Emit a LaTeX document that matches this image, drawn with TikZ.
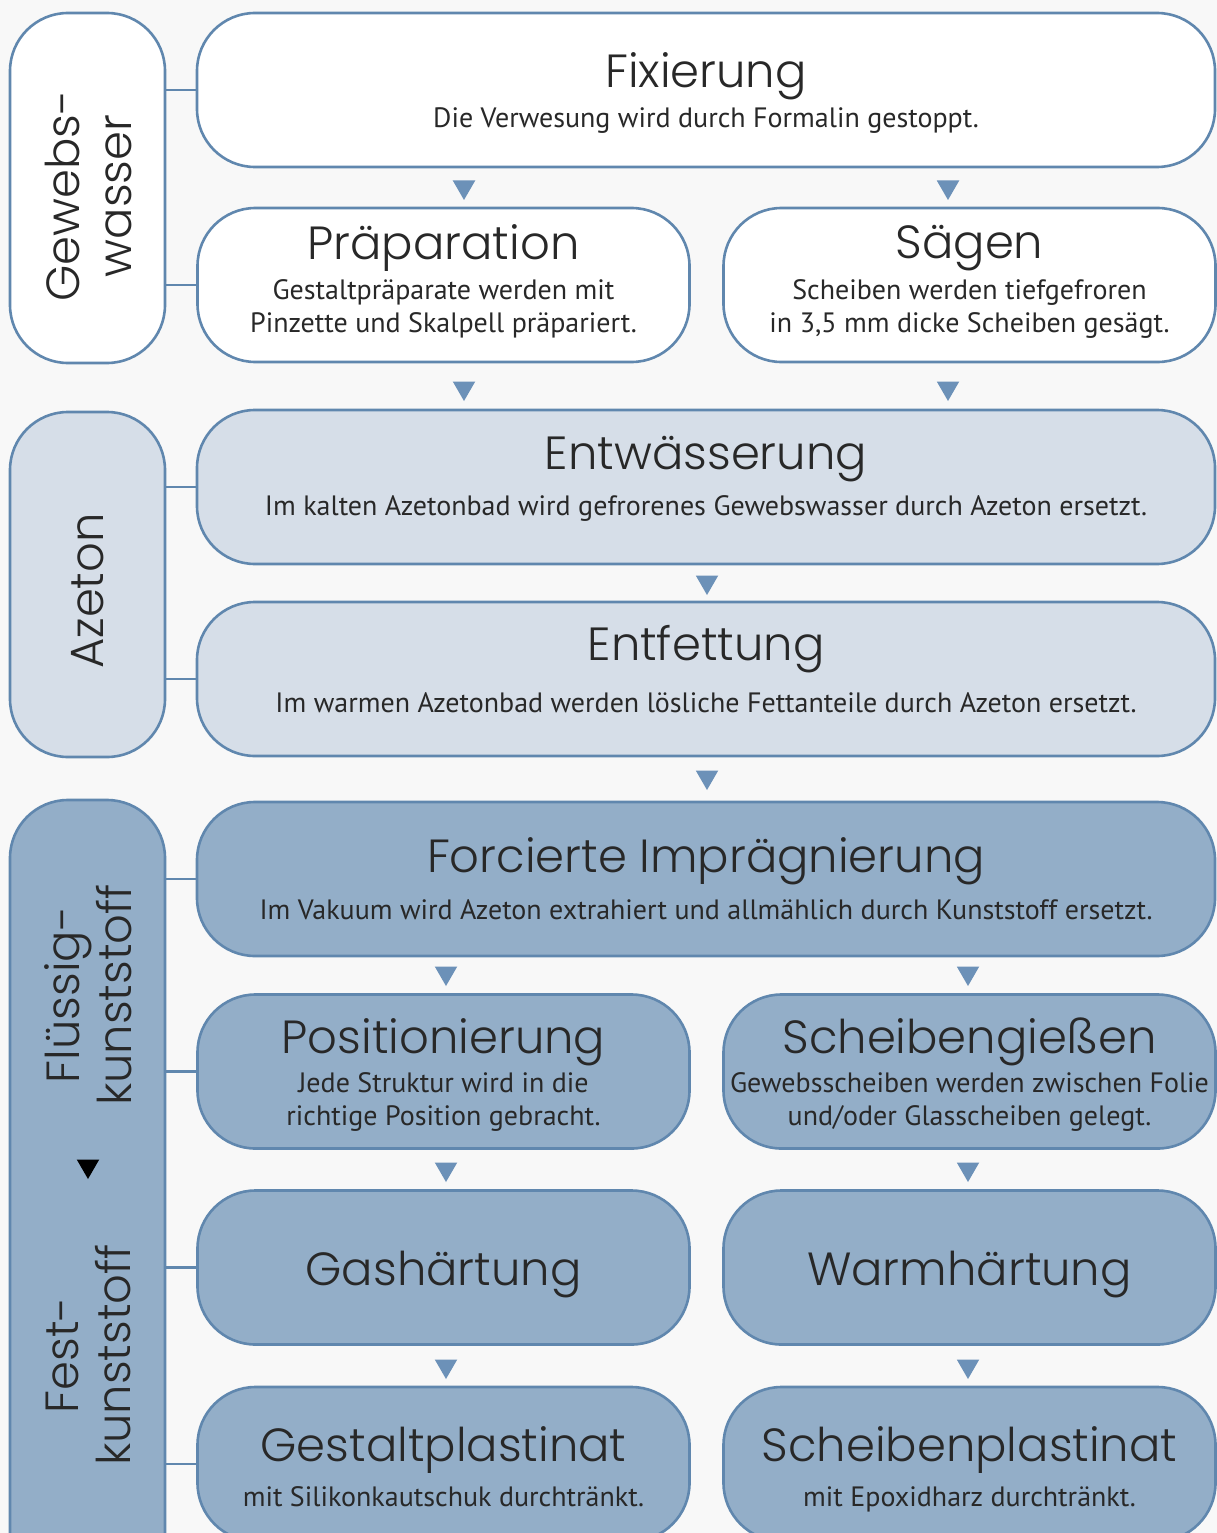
\documentclass[tikz,border=0pt]{standalone}
\usepackage{fontspec}
\setmainfont{PT Sans}
\newfontfamily\titlefont{Poppins}[UprightFont={* Light}]
\usetikzlibrary{shapes.geometric}

\definecolor{bgcol}{RGB}{248,248,248}
\definecolor{linecol}{RGB}{96,135,174}
\definecolor{lightcol}{RGB}{214,222,232}
\definecolor{darkcol}{RGB}{147,174,200}
\definecolor{tricol}{RGB}{108,145,184}
\definecolor{textcol}{RGB}{40,40,40}

\newcommand{\descsize}{\fontsize{28}{32.5}\selectfont}
\newcommand{\titlesize}{\titlefont\fontsize{46.5}{52}\selectfont}

\tikzset{
  stage/.style={draw=linecol, line width=2.6pt, rounded corners=58pt,
    minimum height=154pt, inner sep=0pt},
  wide/.style={stage, minimum width=1018pt},
  half/.style={stage, minimum width=492pt},
  phase/.style={draw=linecol, line width=2.6pt, rounded corners=58pt, minimum width=155pt},
  phaselabel/.style={rotate=90, align=center, text=textcol, font=\titlesize},
  heading/.style={anchor=base, inner sep=0pt, text=textcol, font=\titlesize},
  note/.style={anchor=base, inner sep=0pt, align=center, text=textcol, font=\descsize},
  pale/.style={fill=white},
  mid/.style={fill=lightcol},
  deep/.style={fill=darkcol},
  tri/.style={regular polygon, regular polygon sides=3, shape border rotate=180,
    fill=tricol, minimum size=26pt, inner sep=0pt},
  link/.style={draw=linecol, line width=2.6pt},
}

\begin{document}
\begin{tikzpicture}[x=1pt, y=-1pt]
    % Background
    \fill[bgcol] (0,0) rectangle (1217,1533);
    \clip (0,0) rectangle (1217,1533);

    % Phases on the left
    \node[phase, pale, minimum height=350pt] (gew) at (87.5,188) {};
    \node[phase, mid, minimum height=345pt] (aze) at (87.5,584.5) {};
    \node[phase, deep, minimum height=800pt] (kunst) at (87.5,1200) {};

    \node[phaselabel] (gewlab) at (88,196) {Gewebs-\\wasser};
    \node[phaselabel] (azelab) at (88,591) {Azeton};
    \node[phaselabel] (fluelab) at (88,995) {Flüssig-\\kunststoff};
    \node[phaselabel] (festlab) at (88,1355) {Fest-\\kunststoff};
    \node[tri, fill=black] (change) at (88,1166) {};

    % Step boxes
    \node[wide, pale] (fix) at (706,90) {};
    \node[half, pale] (prep) at (443.5,285) {};
    \node[half, pale] (saeg) at (969.5,285) {};
    \node[wide, mid] (entw) at (706,487) {};
    \node[wide, mid] (entf) at (706,679) {};
    \node[wide, deep] (forc) at (706,879) {};
    \node[half, deep] (pos) at (443.5,1071.5) {};
    \node[half, deep] (giess) at (969.5,1071.5) {};
    \node[half, deep] (gas) at (443.5,1267.5) {};
    \node[half, deep] (warm) at (969.5,1267.5) {};
    \node[half, deep] (gest) at (443.5,1464) {};
    \node[half, deep] (schp) at (969.5,1464) {};

    % Headings and notes (notes sit on their last line)
    \node[heading] (fixhead) at (706,88) {Fixierung};
    \node[note] (fixnote) at (706,128) {Die Verwesung wird durch Formalin gestoppt.};
    \node[heading] (prephead) at (443.5,259) {Präparation};
    \node[note] (prepnote) at (443.5,332) {Gestaltpräparate werden mit\\ Pinzette und Skalpell präpariert.};
    \node[heading] (saeghead) at (969.5,258) {Sägen};
    \node[note] (saegnote) at (969.5,332) {Scheiben werden tiefgefroren\\ in 3,5 mm dicke Scheiben gesägt.};
    \node[heading] (entwhead) at (706,469) {Entwässerung};
    \node[note] (entwnote) at (706,515) {Im kalten Azetonbad wird gefrorenes Gewebswasser durch Azeton ersetzt.};
    \node[heading] (entfhead) at (706,660) {Entfettung};
    \node[note] (entfnote) at (706,712) {Im warmen Azetonbad werden lösliche Fettanteile durch Azeton ersetzt.};
    \node[heading] (forchead) at (706,872) {Forcierte Imprägnierung};
    \node[note] (forcnote) at (706,919) {Im Vakuum wird Azeton extrahiert und allmählich durch Kunststoff ersetzt.};
    \node[heading] (poshead) at (443.5,1053) {Positionierung};
    \node[note] (posnote) at (443.5,1125) {Jede Struktur wird in die\\ richtige Position gebracht.};
    \node[heading] (giesshead) at (969.5,1053) {Scheibengießen};
    \node[note] (giessnote) at (969.5,1125) {Gewebsscheiben werden zwischen Folie\\ und/oder Glasscheiben gelegt.};
    \node[heading] (gashead) at (443.5,1285) {Gashärtung};
    \node[heading] (warmhead) at (969.5,1285) {Warmhärtung};
    \node[heading] (gesthead) at (443.5,1461) {Gestaltplastinat};
    \node[note] (gestnote) at (443.5,1506) {mit Silikonkautschuk durchtränkt.};
    \node[heading] (schphead) at (969.5,1461) {Scheibenplastinat};
    \node[note] (schpnote) at (969.5,1506) {mit Epoxidharz durchtränkt.};

    % Links to the phases
    \foreach \s/\p in {fix/gew, prep/gew, entw/aze, entf/aze, forc/kunst, pos/kunst, gas/kunst, gest/kunst} {
        \draw[link] (\s.west) -- (\s.west -| \p.east);
    }

    % Step markers
    \foreach \x/\y [count=\i] in {464/187, 948/187, 464/388, 948/388, 707/582, 707/777,
                                   446/973, 968/973, 446/1169, 968/1169, 446/1366, 968/1366} {
        \node[tri] (t\i) at (\x,\y) {};
    }
\end{tikzpicture}
\end{document}
